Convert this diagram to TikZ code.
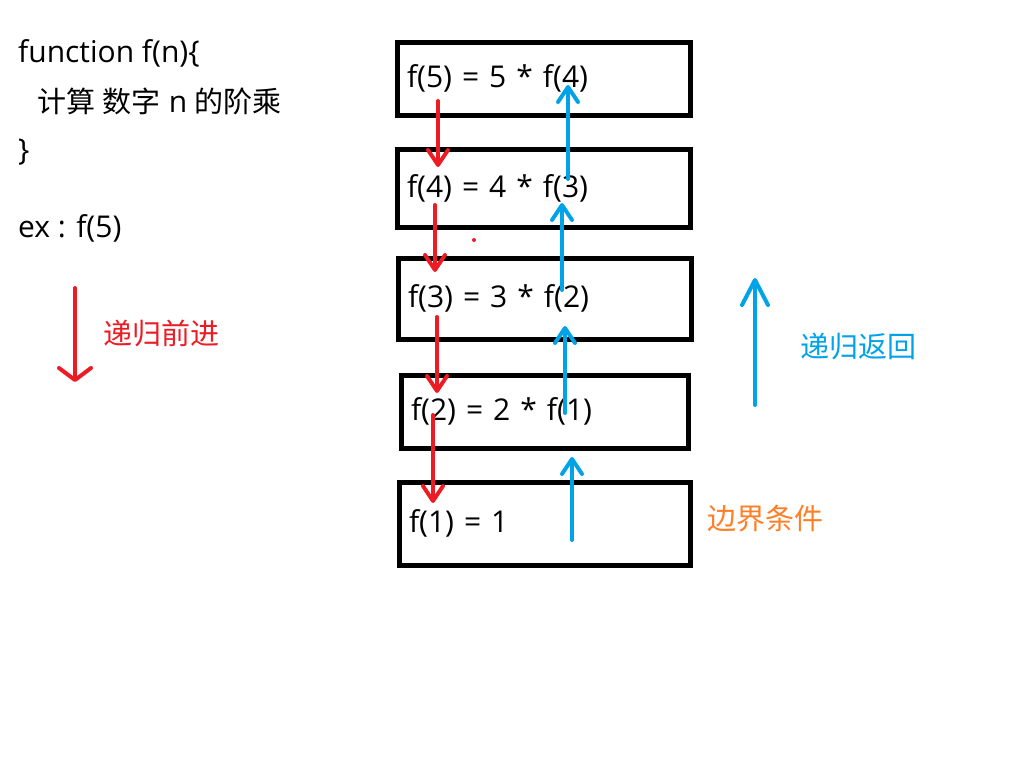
\documentclass[tikz,border=0pt]{standalone}
\usepackage{fontspec}
\setmainfont{Open Sans}
\newfontfamily\cjk{Noto Sans CJK SC}
\usetikzlibrary{arrows.meta}
\definecolor{cred}{RGB}{237,28,36}
\definecolor{cblue}{RGB}{0,162,232}
\definecolor{corange}{RGB}{255,127,39}
\tikzstyle{stack}=[
    frame/.style={rectangle, draw, line width=5pt, inner sep=0pt, inner xsep=10pt, align=left},
    txt/.style={font={\fontsize{30}{34}\selectfont}, anchor=base west, inner sep=0pt},
    note/.style={font={\cjk\fontsize{29}{30}\selectfont}, anchor=west, inner sep=0pt},
    down/.style={cred, line width=4pt, line cap=round, -{Straight Barb[length=15pt,width=20pt,round]}},
    up/.style={cblue, line width=4pt, line cap=round, -{Straight Barb[length=15pt,width=20pt,round]}},
]
\begin{document}
\begin{tikzpicture}[stack, x=1pt, y=-1pt]
    \useasboundingbox[fill=white] (0,0) rectangle (1018,758);
    % left column
    \node[txt] (fn) at (18,62) {function f(n)\{};
    \node[txt] (body) at (37,112) {{\cjk\fontsize{29}{30}\selectfont 计算} {\cjk\fontsize{29}{30}\selectfont 数字} n {\cjk\fontsize{29}{30}\selectfont 的阶乘}};
    \node[txt] (close) at (18,160) {\}};
    \node[txt] (ex) at (18,237) {ex : f(5)};
    \coordinate (go a) at (75,288);
    \coordinate (go b) at (75,382);
    \draw[down, -{Straight Barb[length=12pt,width=32pt,round]}] (go a) -- (go b);
    \node[note, cred] (go) at (103,333) {递归前进};
    % the call stack
    \foreach \n/\x/\y/\w/\h/\t in {
        1/543.5/78.5/293/73/{f(5) = 5 * f(4)},
        2/543.5/188/293/78/{f(4) = 4 * f(3)},
        3/544.5/298.5/293/81/{f(3) = 3 * f(2)},
        4/544.5/411.5/287/73/{f(2) = 2 * f(1)},
        5/544.5/523.5/291/83/{f(1) = 1}}
    {
        \node[frame, minimum width=\w pt, minimum height=\h pt, text width=\w pt-20pt,
            font={\fontsize{30}{34}\selectfont}] (b\n) at (\x,\y) {\t};
    }
    \foreach \i/\x/\a/\b in {1/438/101/167, 2/435/205/272, 3/437/317/393, 4/433/415/503}
    {
        \coordinate (r\i a) at (\x,\a);
        \coordinate (r\i b) at (\x,\b);
        \draw[down] (r\i a) -- (r\i b);
    }
    \foreach \i/\x/\a/\b in {1/568/179/85, 2/562/290/203, 3/565/413/326, 4/572/540/457}
    {
        \coordinate (u\i a) at (\x,\a);
        \coordinate (u\i b) at (\x,\b);
        \draw[up] (u\i a) -- (u\i b);
    }
    \fill[cred] (474,240) circle (2pt);
    % right side
    \coordinate (back a) at (755,405);
    \coordinate (back b) at (755,278);
    \draw[up, -{Straight Barb[length=25pt,width=26pt,round]}] (back a) -- (back b);
    \node[note, cblue] (back) at (800,346) {递归返回};
    \node[note, corange] (edge) at (707,519) {边界条件};
\end{tikzpicture}
\end{document}
